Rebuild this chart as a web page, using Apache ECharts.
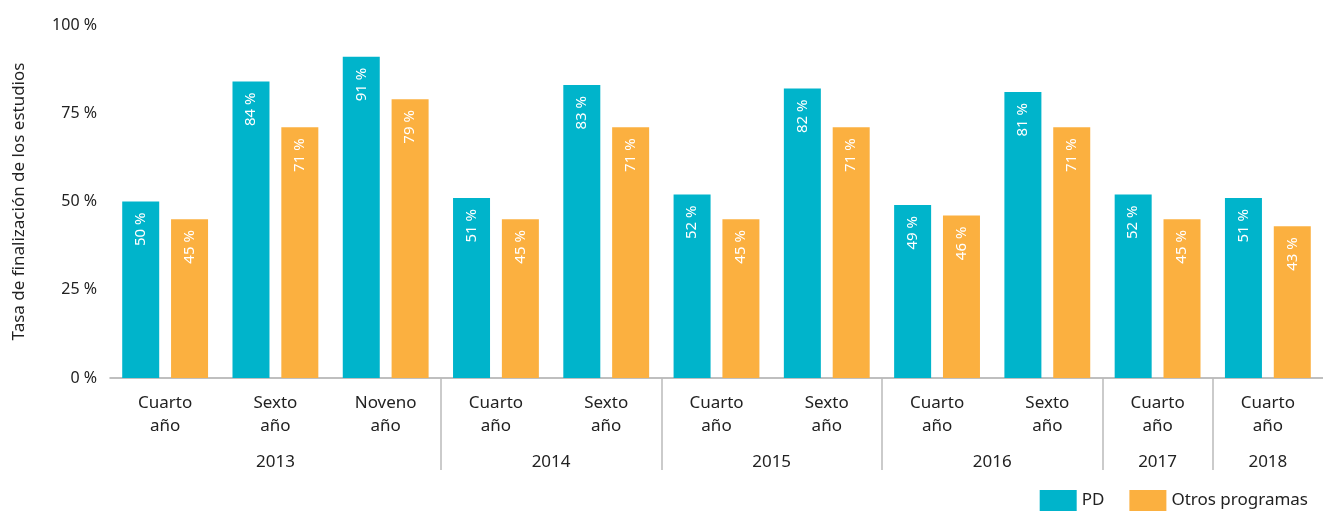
<!DOCTYPE html>
<html>
<head>
<meta charset="utf-8">
<script src="https://cdn.jsdelivr.net/npm/echarts@6/dist/echarts.min.js"></script>
<style>
  html, body { margin: 0; padding: 0; background: #fff; }
  #chart { width: 1323px; height: 516px; }
</style>
</head>
<body>
<div id="chart"></div>
<script>
// categorias del eje x (nivel de estudio) y grupos por año
const grados = ['Cuarto\naño', 'Sexto\naño', 'Noveno\naño', 'Cuarto\naño', 'Sexto\naño',
  'Cuarto\naño', 'Sexto\naño', 'Cuarto\naño', 'Sexto\naño', 'Cuarto\naño', 'Cuarto\naño']
const anios = ['2013', '2014', '2015', '2016', '2017', '2018']
const aniosCentro = [1.5, 4, 6, 8, 9.5, 10.5]
const separadores = [3, 5, 7, 9, 10]

const pd = [50, 84, 91, 51, 83, 52, 82, 49, 81, 52, 51]
const otros = [45, 71, 79, 45, 71, 45, 71, 46, 71, 45, 43]

const FONT = 'Noto Sans'

let myChart = echarts.init(document.getElementById('chart'))

function etiquetaBarra () {
    return {
        show: true,
        position: 'insideTop',
        rotate: 90,
        align: 'right',
        verticalAlign: 'middle',
        distance: 11,
        color: '#fff',
        fontFamily: FONT,
        fontSize: 15,
        formatter: '{c} %'
    }
}

let option = {
    animation: false,
    textStyle: { fontFamily: FONT },
    legend: {
        right: 10,
        bottom: 0,
        itemWidth: 37,
        itemHeight: 21,
        itemGap: 25,
        icon: 'rect',
        textStyle: { fontSize: 17, color: '#222', fontFamily: FONT },
        data: ['PD', 'Otros programas']
    },
    grid: {
        left: 110,
        right: 0,
        top: 25,
        bottom: 138,
        containLabel: false,
        outerBoundsMode: 'none'
    },
    xAxis: [
        {
            type: 'category',
            data: grados,
            position: 'bottom',
            axisLine: { lineStyle: { color: '#aaa', width: 1.5 } },
            axisTick: { show: false },
            axisLabel: {
                margin: 14,
                fontSize: 17,
                lineHeight: 23,
                color: '#222',
                interval: 0
            }
        },
        {
            type: 'value',
            min: 0,
            max: 11,
            position: 'bottom',
            axisLine: { show: false },
            splitLine: { show: false },
            axisTick: {
                show: true,
                customValues: separadores,
                length: 92,
                lineStyle: { color: '#bbb', width: 1.5 }
            },
            axisLabel: {
                customValues: aniosCentro,
                margin: 76,
                fontSize: 17,
                color: '#222',
                formatter: function (v) {
                    return anios[aniosCentro.indexOf(v)]
                }
            }
        }
    ],
    yAxis: {
        type: 'value',
        min: 0,
        max: 100,
        interval: 25,
        name: 'Tasa de finalización de los estudios',
        nameLocation: 'middle',
        nameGap: 82,
        nameTextStyle: { fontSize: 17, color: '#222' },
        axisLine: { show: false },
        axisTick: { show: false },
        splitLine: { show: false },
        axisLabel: {
            margin: 13,
            fontSize: 16,
            color: '#222',
            formatter: '{value} %'
        }
    },
    series: [
        {
            name: 'PD',
            type: 'bar',
            data: pd,
            barWidth: 37,
            barGap: '32%',
            itemStyle: { color: '#00B4CB' },
            label: etiquetaBarra()
        },
        {
            name: 'Otros programas',
            type: 'bar',
            data: otros,
            barWidth: 37,
            itemStyle: { color: '#FBB040' },
            label: etiquetaBarra()
        }
    ]
}

myChart.setOption(option)

window.addEventListener('resize', function () {
    myChart.resize()
})
</script>
</body>
</html>
